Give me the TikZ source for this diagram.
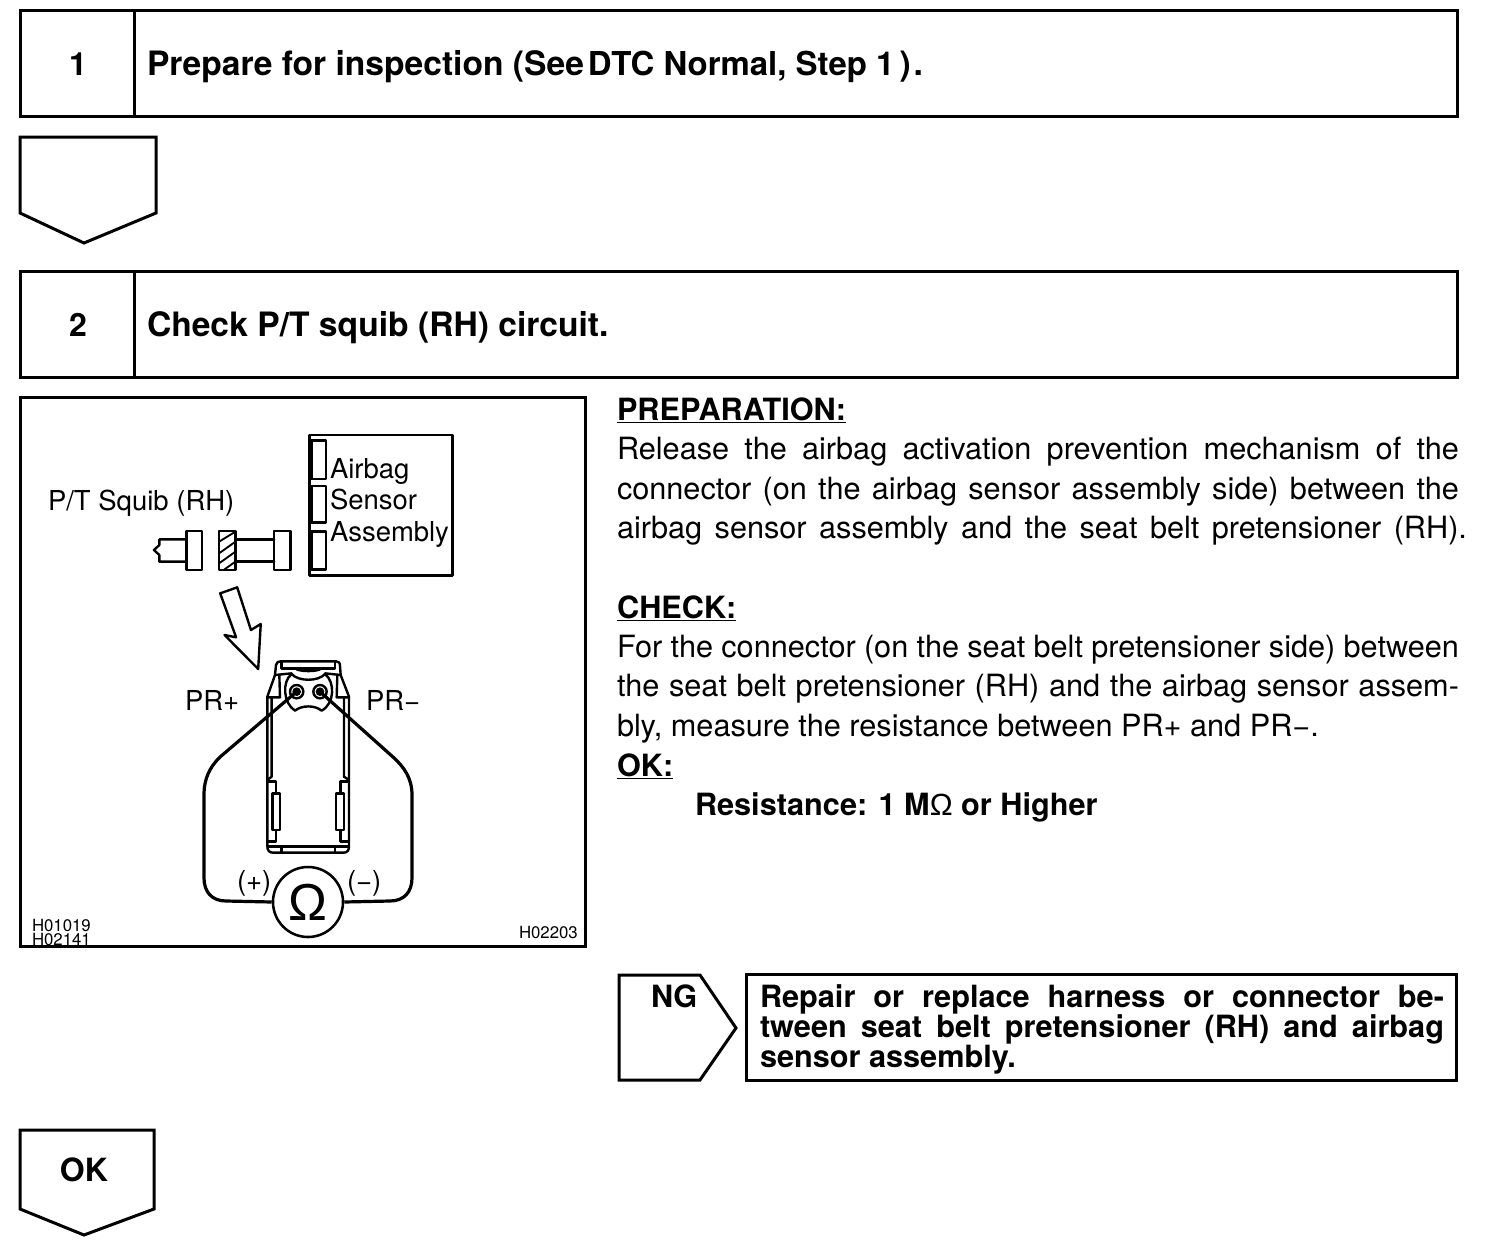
\documentclass[tikz,border=0pt]{standalone}
\usepackage{fontspec}
\setmainfont{TeX Gyre Heros}
\newfontfamily\omegafont{Liberation Sans}
\newcommand{\pxfontA}{\fontsize{25.2pt}{30pt}\selectfont}
\newcommand{\pxfontB}{\fontsize{24.7pt}{30pt}\selectfont}
\newcommand{\numfont}{\fontsize{24pt}{30pt}\selectfont}
\newcommand{\bodyfont}{\fontsize{23pt}{28pt}\selectfont}
\newcommand{\labelfont}{\fontsize{20.6pt}{24pt}\selectfont}
\newcommand{\tinyfont}{\fontsize{12.6pt}{14pt}\selectfont}
\newcommand{\fitline}[2]{\makebox[\dimexpr #1pt*3/4\relax][s]{#2}}
\tikzset{
  heavy/.style={draw=black,line width=2.25pt,line join=miter},
  thin part/.style={draw=black,line width=1.8pt,line join=round,line cap=round},
  fine part/.style={draw=black,line width=1.4pt,line join=round,line cap=round},
  wire/.style={draw=black,line width=2.4pt,line join=round},
  txt/.style={anchor=base west,inner sep=0pt,outer sep=0pt,text=black},
  title/.style={txt,font=\bfseries\pxfontA},
  body/.style={txt,font=\bodyfont},
  bodyb/.style={txt,font=\bfseries\bodyfont},
  lab/.style={txt,font=\labelfont},
  tiny/.style={txt,font=\tinyfont},
  num/.style={anchor=base,inner sep=0pt,font=\bfseries\numfont},
}
\begin{document}
\begin{tikzpicture}[x=0.75pt,y=-0.75pt]
\useasboundingbox (0,0) rectangle (1504,1250);
\fill[white] (0,0) rectangle (1504,1250);
% step 1
\draw[heavy] (20,10) rectangle (1457,116);
\draw[heavy] (134,10) -- (134,116);
\node[num] (n1) at (78,75) {1};
\node[title] (t1) at (147,75) {Prepare for inspection (See\hspace{3pt}{\pxfontB DTC Normal, Step 1}\hspace{4pt})\hspace{2pt}.};
\draw[heavy] (20,137) -- (156,137) -- (156,213) -- (84,243) -- (20,213) -- cycle;
% step 2
\draw[heavy] (20,271) rectangle (1457,377);
\draw[heavy] (134,271) -- (134,377);
\node[num] (n2) at (78,336) {2};
\node[title] (t2) at (147,336) {Check P/T squib (RH) circuit.};
% figure frame
\draw[heavy] (20,397) rectangle (585,946);
% upper drawing
\begin{scope}[shift={(20,400)},x=.2715pt,y=-.25pt]
  \draw[thin part,line width=2pt] (800,105) rectangle (1194,527);
  \draw[thin part] (805,122) rectangle (845,237);
  \draw[thin part] (805,258) rectangle (845,368);
  \draw[thin part] (805,395) rectangle (845,508);
  \draw[thin part] (460,418) -- (385,418) -- (385,435) -- (370,450) -- (385,465) -- (385,485) -- (460,485);
  \draw[thin part] (460,393) rectangle (502,510);
  \draw[thin part] (550,393) rectangle (595,510);
  \draw[fine part] (550,425) -- (595,395) (550,460) -- (595,425) (550,490) -- (595,455) (565,508) -- (595,485);
  \draw[thin part] (595,418) -- (702,418) (595,485) -- (702,485);
  \draw[thin part] (702,393) rectangle (747,510);
  \draw[thin part] (553,580) -- (600,562) -- (638,690) -- (665,672) -- (658,807) -- (565,705) -- (597,712) -- cycle;
\end{scope}
\node[lab] (sq) at (48,510) {P/T Squib (RH)};
\node[lab] (ab1) at (330,478) {Airbag};
\node[lab] (ab2) at (330,509) {Sensor};
\node[lab] (ab3) at (330,541) {Assembly};
\node[lab] (prp) at (185,710) {PR+};
\node[lab] (prm) at (366,710) {PR−};
\node[lab] (pl) at (237,890) {(+)};
\node[lab] (mi) at (347,890) {(−)};
\node[tiny] (h1) at (32,931) {H01019};
\node[tiny] (h2) at (32,945) {H02141};
\node[tiny] (h3) at (519,938) {H02203};
% connector drawing
\begin{scope}[shift={(180,640)},x=.25pt,y=-.25pt]
  \draw[thin part] (262,170) -- (262,618) .. controls (262,632) and (268,638) .. (280,638) -- (490,638) .. controls (502,638) and (507,632) .. (507,618) -- (507,170);
  \draw[thin part] (262,170) -- (285,105) -- (288,75) .. controls (290,66) and (295,64) .. (302,64) -- (468,64) .. controls (476,64) and (480,68) .. (480,78) -- (482,105) -- (507,170);
  \draw[thin part] (305,66) -- (305,85) -- (465,85) -- (465,66);
  \draw[thin part] (350,88) .. controls (365,95) and (405,95) .. (420,88);
  \draw[thin part] (262,172) -- (300,172) -- (298,105) (507,172) -- (470,172) -- (472,105);
  \draw[thin part] (275,172) -- (275,410) -- (262,420) (492,172) -- (492,410) -- (507,420);
  \draw[thin part] (285,105) -- (335,100) (482,105) -- (435,100);
  \draw[thin part] (335,102) .. controls (305,125) and (310,190) .. (345,212) .. controls (365,195) and (405,195) .. (425,212) .. controls (465,190) and (465,125) .. (435,102) .. controls (415,125) and (355,125) .. (335,102);
  \draw[thin part] (265,425) -- (288,425) -- (288,460) (288,570) -- (288,605) -- (265,605);
  \draw[thin part] (278,460) rectangle (300,570);
  \draw[thin part] (505,425) -- (482,425) -- (482,460) (482,570) -- (482,605) -- (505,605);
  \draw[thin part] (468,460) rectangle (492,570);
  \draw[thin part] (265,620) -- (505,620) (305,620) -- (305,638) (465,620) -- (465,638);
  \draw[thin part] (350,155) circle (20);
  \draw[thin part] (420,155) circle (20);
  \fill (350,155) circle (13) coordinate (pinL);
  \fill (420,155) circle (13) coordinate (pinR);
\end{scope}
\node[circle,draw=black,line width=1.9pt,minimum size=52.5pt,inner sep=0pt] (ohm) at (308,902) {};
\node[anchor=base,inner sep=0pt,font=\omegafont\fontsize{39pt}{40pt}\selectfont] (ohmt) at (308,920) {Ω};
\draw[wire] (pinL) -- (220,757) .. controls (210,767) and (204,778) .. (204,795) -- (204,878) .. controls (204,892) and (212,901) .. (226,901) -- (ohm.west);
\draw[wire] (pinR) -- (393,757) .. controls (404,767) and (412,778) .. (412,795) -- (412,878) .. controls (412,892) and (404,901) .. (390,901) -- (ohm.east);
% right text
\node[bodyb] (p0) at (617,420) {\underline{PREPARATION:}};
\node[body] (p1) at (617,459) {\fitline{842}{Release the airbag activation prevention mechanism of the}};
\node[body] (p2) at (617,499) {\fitline{842}{connector (on the airbag sensor assembly side) between the}};
\node[body] (p3) at (617,538) {\fitline{850}{airbag sensor assembly and the seat belt pretensioner (RH).}};
\node[bodyb] (c0) at (617,618) {\underline{CHECK:}};
\node[body] (c1) at (617,657) {\fitline{842}{For the connector (on the seat belt pretensioner side) between}};
\node[body] (c2) at (617,696) {\fitline{842}{the seat belt pretensioner (RH) and the airbag sensor assem-}};
\node[body] (c3) at (617,736) {bly, measure the resistance between PR+ and PR−.};
\node[bodyb] (c4) at (617,776) {\underline{OK:}};
\node[bodyb] (c5) at (695,815) {Resistance: 1 M{\omegafont\mdseries Ω} or Higher};
% NG
\draw[heavy] (619,975) -- (700,975) -- (736,1028) -- (700,1080) -- (619,1080) -- cycle;
\node[bodyb] (ng) at (651,1007) {NG};
\draw[heavy] (746,974) rectangle (1456,1080);
\node[bodyb] (r1) at (760,1007) {\fitline{684}{Repair or replace harness or connector be-}};
\node[bodyb] (r2) at (760,1037) {\fitline{684}{tween seat belt pretensioner (RH) and airbag}};
\node[bodyb] (r3) at (760,1067) {sensor assembly.};
% OK
\draw[heavy] (20,1130) -- (154,1130) -- (154,1209) -- (84,1235) -- (20,1209) -- cycle;
\node[num] (okt) at (84,1181) {OK};
\end{tikzpicture}
\end{document}
